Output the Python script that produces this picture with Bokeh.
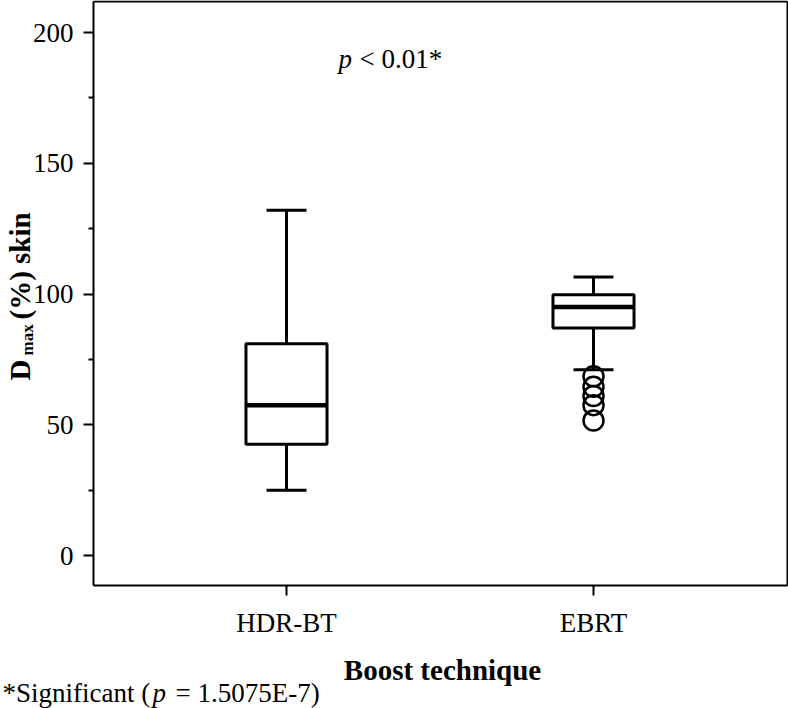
import math
from bokeh.plotting import figure
from bokeh.models import Range1d, FixedTicker, Label, LinearAxis
from bokeh.embed import file_html
from bokeh.resources import INLINE

# ---- data ----
categories = ["HDR-BT", "EBRT"]
lower_whisker = [25.0, 71.0]
q1 = [42.5, 87.0]
median = [57.5, 95.0]
q3 = [81.0, 99.7]
upper_whisker = [132.0, 106.5]
outlier_cat = ["EBRT", "EBRT", "EBRT", "EBRT", "EBRT"]
outlier_val = [68.5, 64.5, 61.0, 57.5, 51.6]
y_ticks = [0, 50, 100, 150, 200]
y_minor = [25, 75, 125, 175]

FONT = "Liberation Serif"

# page offset of the canvas and canvas size
OX, OY = 0, 0
W, H = 788, 708

xpos = {c: i + 0.5 for i, c in enumerate(categories)}


# page-pixel -> data mapping (reference geometry)
def dx(px):
    return 0.5 + (px - 286.0) / 307.0


def dy(py):
    return (555.0 - py) / 2.615


XS, XE = dx(OX), dx(OX + W)
YS, YE = dy(OY + H), dy(OY)

p = figure(width=W, height=H, x_range=Range1d(XS, XE), y_range=Range1d(YS, YE),
           output_backend="svg", toolbar_location=None, title=None, min_border=0)
p.background_fill_color = "white"
p.border_fill_color = "white"
p.outline_line_color = None
p.xgrid.visible = False
p.ygrid.visible = False

FL, FR, FT, FB = 93, 787, 1, 585
xb = (dx(FL), dx(FR))
yb = (dy(FB), dy(FT))

# main axes at fixed positions
for ax in (p.xaxis[0], p.yaxis[0]):
    ax.axis_line_width = 2
    ax.axis_line_color = "black"
    ax.major_tick_line_width = 2
    ax.minor_tick_line_width = 2
    ax.major_tick_out = 10
    ax.major_tick_in = 0
    ax.major_label_text_font = FONT
    ax.major_label_text_font_size = "27px"
    ax.major_label_text_color = "black"

yax = p.yaxis[0]
yax.fixed_location = dx(FL)
yax.bounds = yb
yax.ticker = FixedTicker(ticks=y_ticks, minor_ticks=y_minor)
yax.minor_tick_out = 5
yax.minor_tick_in = 0
yax.major_label_standoff = 10

xax = p.xaxis[0]
xax.fixed_location = dy(FB)
xax.bounds = xb
xt = [xpos[c] for c in categories]
xax.ticker = FixedTicker(ticks=xt, minor_ticks=[])
xax.major_label_overrides = {xpos[c]: c for c in categories}
xax.major_label_standoff = 12
xax.minor_tick_line_color = None

# top and right frame lines
top = LinearAxis(fixed_location=dy(FT), bounds=xb, ticker=FixedTicker(ticks=[], minor_ticks=[]),
                 axis_line_width=2, axis_line_color="black", major_label_text_font_size="0px")
right = LinearAxis(fixed_location=dx(FR), bounds=yb, ticker=FixedTicker(ticks=[], minor_ticks=[]),
                   axis_line_width=2, axis_line_color="black", major_label_text_font_size="0px")
p.add_layout(top, "above")
p.add_layout(right, "right")

# boxes
xs = [xpos[c] for c in categories]
box_w = 0.264
cap_w = 0.13
p.segment(x0=xs, y0=q3, x1=xs, y1=upper_whisker, line_color="black", line_width=3)
p.segment(x0=xs, y0=q1, x1=xs, y1=lower_whisker, line_color="black", line_width=3)
p.segment(x0=[x - cap_w / 2 for x in xs], y0=upper_whisker,
          x1=[x + cap_w / 2 for x in xs], y1=upper_whisker, line_color="black", line_width=3)
p.segment(x0=[x - cap_w / 2 for x in xs], y0=lower_whisker,
          x1=[x + cap_w / 2 for x in xs], y1=lower_whisker, line_color="black", line_width=3)
p.quad(left=[x - box_w / 2 for x in xs], right=[x + box_w / 2 for x in xs],
       bottom=q1, top=q3, fill_color="white", line_color="black", line_width=3)
p.segment(x0=[x - box_w / 2 for x in xs], y0=median,
          x1=[x + box_w / 2 for x in xs], y1=median, line_color="black", line_width=4.5)
p.scatter(x=[xpos[c] for c in outlier_cat], y=outlier_val, marker="circle", size=20,
          fill_color=None, line_color="black", line_width=2.5)


def lab(text, px, py, size, style="normal", align="left", angle=0.0):
    p.add_layout(Label(x=dx(px), y=dy(py), text=text, text_font=FONT,
                       text_font_size=f"{size}px", text_font_style=style,
                       text_align=align, text_baseline="alphabetic",
                       text_color="black", angle=angle))


# p-value annotation
lab("p", 338, 58, 27, "italic")
lab("< 0.01*", 359, 58, 27)

# x axis title
lab("Boost technique", 442, 669, 29, "bold", "center")

# y axis title (rotated)
A = math.pi / 2
lab("D", 19, 380, 29, "bold", angle=A)
lab("max", 27, 355, 17, "bold", angle=A)
lab("(%) skin", 19, 319, 29, "bold", angle=A)

# footnote
lab("*Significant (", 2, 692, 27)
lab("p", 152, 692, 27, "italic")
lab("= 1.5075E-7)", 175, 692, 27)

open("out.html", "w").write(file_html(p, INLINE))
